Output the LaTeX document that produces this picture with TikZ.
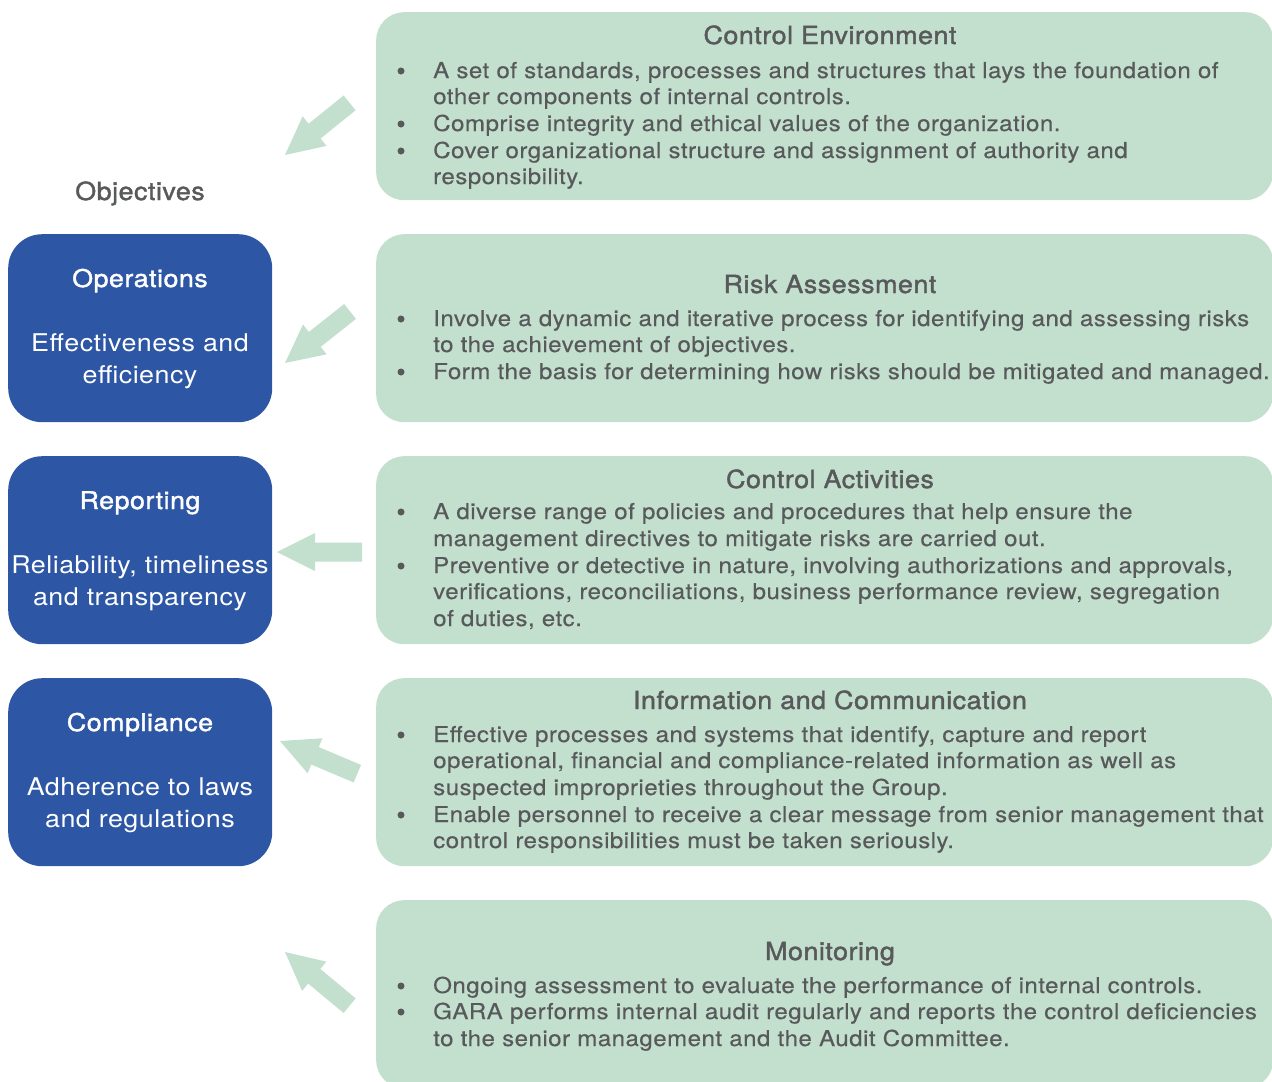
\documentclass[tikz,border=0pt]{standalone}
\usepackage{fontspec}
\setmainfont{TeX Gyre Heros}
\newfontfamily\bodyfont[FakeStretch=1.1, LetterSpace=2.1, FakeBold=0.3]{TeX Gyre Heros}
\newfontfamily\medfont[FakeStretch=1.08, LetterSpace=2, FakeBold=1.5]{TeX Gyre Heros}
\newfontfamily\bluefont[FakeStretch=1.1, LetterSpace=2]{TeX Gyre Heros}
\newfontfamily\bluemed[FakeStretch=1.1, LetterSpace=2, FakeBold=1.5]{TeX Gyre Heros}
\definecolor{boxgreen}{HTML}{C3DFCE}
\definecolor{boxblue}{HTML}{2D56A4}
\definecolor{txtgray}{HTML}{58595B}
\newcommand{\blockarr}[3]{%
  \fill[boxgreen, shift={(#1)}, rotate=#2] (0,0) -- (38,19) -- (38,9.5) -- (#3,9.5) -- (#3,-9.5) -- (38,-9.5) -- (38,-19) -- cycle;}
\begin{document}
\begin{tikzpicture}[x=1bp,y=-1bp,
  greenbox/.style={fill=boxgreen, rounded corners=28bp, minimum width=897bp, minimum height=188bp, anchor=north west, inner sep=0},
  bluebox/.style={fill=boxblue, rounded corners=34bp, minimum width=264bp, minimum height=188bp, anchor=north west, inner sep=0},
  body/.style={font=\bodyfont\fontsize{22}{26.5}\selectfont, text=txtgray, inner sep=0, anchor=base west},
  ttl/.style={font=\medfont\fontsize{25}{29}\selectfont, text=txtgray, inner sep=0, anchor=base},
  btitle/.style={font=\bluemed\fontsize{24.5}{30}\selectfont, text=white, inner sep=0, anchor=base},
  btext/.style={font=\bluefont\fontsize{24.5}{32}\selectfont, text=white, inner sep=0, anchor=base},
  bul/.style={fill=txtgray, circle, inner sep=0, minimum size=7bp}]
\useasboundingbox (0,0) rectangle (1272,1082);
\clip (0,0) rectangle (1272,1082);
% green boxes
\node[greenbox] (g1) at (376,12) {};
\node[greenbox] (g2) at (376,234) {};
\node[greenbox] (g3) at (376,456) {};
\node[greenbox] (g4) at (376,678) {};
\node[greenbox] (g5) at (376,900) {};
% blue boxes
\node[bluebox] (b1) at (8,234) {};
\node[bluebox] (b2) at (8,456) {};
\node[bluebox] (b3) at (8,678) {};
% objectives
\node[ttl] (obj) at (140,200) {Objectives};
\node[btitle] (b1t) at (140,287) {Operations};
\node[btext] (b1a) at (140,351) {Effectiveness and};
\node[btext] (b1b) at (140,383) {efficiency};
\node[btitle] (b2t) at (140,509) {Reporting};
\node[btext] (b2a) at (140,573) {Reliability, timeliness};
\node[btext] (b2b) at (140,605) {and transparency};
\node[btitle] (b3t) at (140,731) {Compliance};
\node[btext] (b3a) at (140,795) {Adherence to laws};
\node[btext] (b3b) at (140,827) {and regulations};
% arrows
\blockarr{285,155}{38.9}{83}
\blockarr{285,363}{38.4}{83}
\blockarr{277,552}{0}{85}
\blockarr{280,741}{-22.9}{84}
\blockarr{285,952}{-39.7}{84}
% box 1
\node[ttl] (t1) at (830,44) {Control Environment};
\node[bul] (u1a) at (401,71) {};
\node[body] (l1a) at (433,78) {A set of standards, processes and structures that lays the foundation of};
\node[body] (l1b) at (433,104) {other components of internal controls.};
\node[bul] (u1b) at (401,124) {};
\node[body] (l1c) at (433,131) {Comprise integrity and ethical values of the organization.};
\node[bul] (u1c) at (401,151) {};
\node[body] (l1d) at (433,158) {Cover organizational structure and assignment of authority and};
\node[body] (l1e) at (433,184) {responsibility.};
% box 2
\node[ttl] (t2) at (830,293) {Risk Assessment};
\node[bul] (u2a) at (401,319) {};
\node[body] (l2a) at (433,326) {Involve a dynamic and iterative process for identifying and assessing risks};
\node[body] (l2b) at (433,352) {to the achievement of objectives.};
\node[bul] (u2b) at (401,372) {};
\node[body] (l2c) at (433,379) {Form the basis for determining how risks should be mitigated and managed.};
% box 3
\node[ttl] (t3) at (830,488) {Control Activities};
\node[bul] (u3a) at (401,512) {};
\node[body] (l3a) at (433,519) {A diverse range of policies and procedures that help ensure the};
\node[body] (l3b) at (433,546) {management directives to mitigate risks are carried out.};
\node[bul] (u3b) at (401,566) {};
\node[body] (l3c) at (433,573) {Preventive or detective in nature, involving authorizations and approvals,};
\node[body] (l3d) at (433,599) {verifications, reconciliations, business performance review, segregation};
\node[body] (l3e) at (433,626) {of duties, etc.};
% box 4
\node[ttl] (t4) at (830,709) {Information and Communication};
\node[bul] (u4a) at (401,735) {};
\node[body] (l4a) at (433,742) {Effective processes and systems that identify, capture and report};
\node[body] (l4b) at (433,768) {operational, financial and compliance-related information as well as};
\node[body] (l4c) at (433,795) {suspected improprieties throughout the Group.};
\node[bul] (u4b) at (401,815) {};
\node[body] (l4d) at (433,822) {Enable personnel to receive a clear message from senior management that};
\node[body] (l4e) at (433,848) {control responsibilities must be taken seriously.};
% box 5
\node[ttl] (t5) at (830,960) {Monitoring};
\node[bul] (u5a) at (401,986) {};
\node[body] (l5a) at (433,993) {Ongoing assessment to evaluate the performance of internal controls.};
\node[bul] (u5b) at (401,1012) {};
\node[body] (l5b) at (433,1019) {GARA performs internal audit regularly and reports the control deficiencies};
\node[body] (l5c) at (433,1046) {to the senior management and the Audit Committee.};
\end{tikzpicture}
\end{document}
